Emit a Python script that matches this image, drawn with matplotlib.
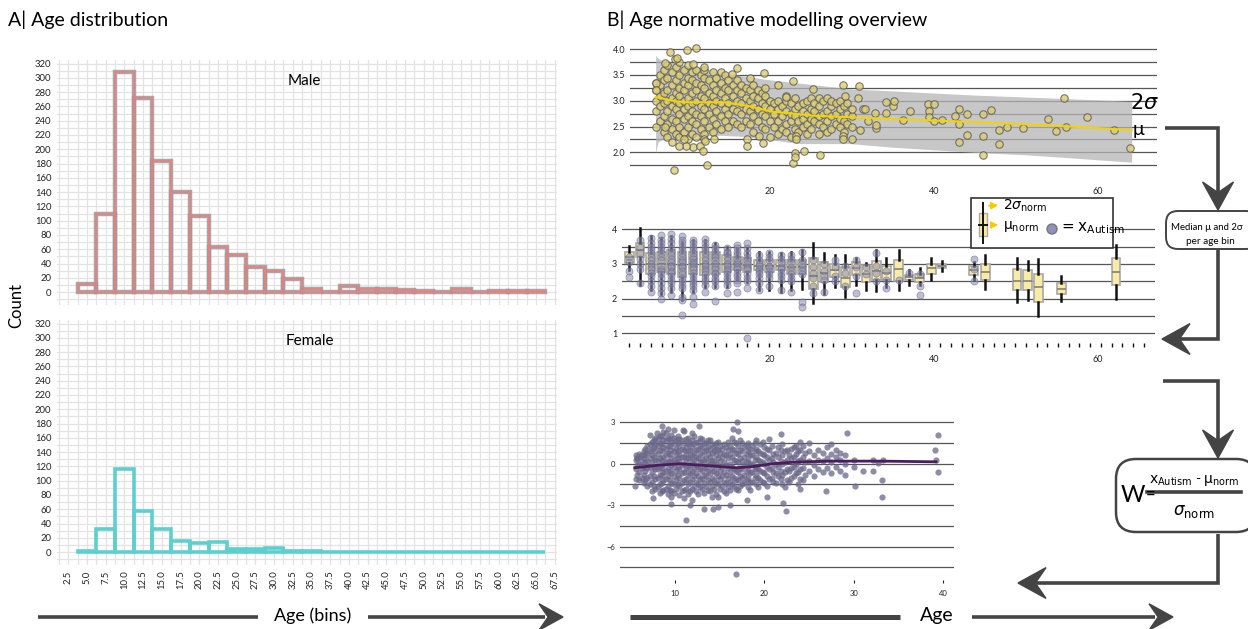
import matplotlib
matplotlib.use('Agg')
import matplotlib.pyplot as plt
import numpy as np
from matplotlib.patches import FancyBboxPatch, Polygon, Rectangle, Circle

plt.rcParams['font.family'] = ['Lato', 'DejaVu Sans']
plt.rcParams['mathtext.fontset'] = 'dejavusans'

# ---------------- data: panel A (histograms) ----------------
bin_start = 3.75
bin_width = 2.5
male_counts = [11, 110, 308, 272, 184, 140, 107, 63, 52, 35, 30, 19, 5, 0, 9, 4, 5, 3, 2, 0, 4, 0, 1, 1, 1]
female_counts = [2, 33, 117, 58, 33, 16, 13, 14, 4, 5, 6, 2, 1, 0, 0, 0, 0, 0, 0, 0, 0, 0, 0, 0, 0]
age_bin_labels = ['2.5', '5.0', '7.5', '10.0', '12.5', '15.0', '17.5', '20.0', '22.5', '25.0', '27.5',
                  '30.0', '32.5', '35.0', '37.5', '40.0', '42.5', '45.0', '47.5', '50.0', '52.5', '55.0',
                  '57.5', '60.0', '62.5', '65.0', '67.5']
count_ticks = list(range(0, 321, 20))

# ---------------- data: panel B top (normative model) ----------------
band_age = [6.0, 6.3, 6.8, 8.0, 10.0, 12.0, 14.0, 16.7, 19.7, 23.7, 29.8, 35.0, 40.0, 45.0, 51.6, 58.0, 64.2]
band_upper = [3.88, 3.82, 3.78, 3.74, 3.68, 3.62, 3.55, 3.48, 3.41, 3.34, 3.23, 3.19, 3.15, 3.11, 3.07, 3.03, 2.99]
band_lower = [1.99, 2.20, 2.25, 2.28, 2.30, 2.32, 2.33, 2.31, 2.25, 2.17, 2.17, 2.10, 2.05, 2.00, 1.95, 1.88, 1.81]
mu_age = [6.0, 8.4, 10.0, 12.0, 14.5, 17.6, 20.2, 25.4, 34.2, 42.9, 51.6, 58.0, 64.2]
mu_val = [3.07, 2.99, 2.97, 2.97, 2.97, 2.89, 2.79, 2.71, 2.65, 2.60, 2.54, 2.49, 2.43]

norm_col_age = [6.1, 6.5, 7.0, 7.4, 8.0, 8.5, 8.9, 9.5, 10.0, 10.4, 11.0, 11.5, 11.9, 12.5, 13.0, 13.4,
                14.0, 14.5, 14.9, 15.5, 16.0, 16.4, 17.0, 17.5, 17.9, 18.5, 19.0, 19.4, 20.0, 20.5, 21.0,
                21.4, 22.0, 22.5, 23.0, 23.4, 24.0, 24.5, 25.0, 25.4, 26.0, 26.5, 27.0, 27.4, 28.0, 28.5,
                29.0, 29.4, 30.0]
norm_col_val = [
    [2.5, 2.8, 3.0, 3.2, 3.35],
    [2.6, 2.9, 3.1, 3.3, 3.5],
    [2.4, 2.7, 2.95, 3.15, 3.4, 3.6],
    [2.3, 2.55, 2.8, 3.0, 3.2, 3.45, 3.7],
    [2.2, 2.45, 2.65, 2.9, 3.05, 3.3, 3.55],
    [2.35, 2.6, 2.85, 3.0, 3.15, 3.4, 3.65],
    [2.3, 2.5, 2.75, 2.95, 3.1, 3.25, 3.5, 3.75],
    [2.4, 2.65, 2.85, 3.0, 3.2, 3.35, 3.6],
    [2.25, 2.5, 2.7, 2.9, 3.05, 3.3, 3.45, 3.7],
    [2.35, 2.6, 2.8, 2.95, 3.15, 3.4, 3.55],
    [2.3, 2.55, 2.75, 3.0, 3.2, 3.35, 3.6],
    [2.45, 2.7, 2.9, 3.1, 3.3, 3.5],
    [2.35, 2.6, 2.85, 3.05, 3.25, 3.45, 3.6],
    [2.5, 2.75, 2.95, 3.15, 3.4],
    [2.4, 2.65, 2.9, 3.1, 3.3, 3.55],
    [2.55, 2.8, 3.0, 3.2, 3.45],
    [2.45, 2.7, 2.95, 3.15, 3.35, 3.55],
    [2.6, 2.85, 3.05, 3.25, 3.5],
    [2.5, 2.75, 2.95, 3.2, 3.4],
    [2.6, 2.85, 3.1, 3.3],
    [2.55, 2.8, 3.0, 3.2, 3.4],
    [2.5, 2.75, 2.95, 3.15, 3.3],
    [2.6, 2.85, 3.05, 3.25],
    [2.55, 2.8, 3.0, 3.2],
    [2.4, 2.7, 2.9, 3.1, 3.3],
    [2.6, 2.85, 3.05, 3.2],
    [2.5, 2.75, 2.95, 3.15],
    [2.45, 2.7, 2.9, 3.1, 3.25],
    [2.3, 2.6, 2.85, 3.0],
    [2.5, 2.75, 2.95],
    [2.35, 2.6, 2.85, 3.0, 3.3],
    [2.45, 2.7, 2.9],
    [2.4, 2.55, 2.8, 3.0, 3.1],
    [2.3, 2.6, 2.75, 2.95],
    [2.45, 2.7, 2.85, 3.05],
    [2.4, 2.6, 2.9],
    [2.5, 2.65, 2.8, 2.95],
    [2.35, 2.55, 2.75, 3.0],
    [2.45, 2.65, 2.85, 3.05],
    [2.6, 2.8, 2.95],
    [2.35, 2.55, 2.7, 2.9, 3.05],
    [2.5, 2.75, 3.0],
    [2.4, 2.6, 2.8, 3.05],
    [2.45, 2.7, 2.9, 3.0],
    [2.55, 2.75, 2.95],
    [2.5, 2.65, 2.85, 3.0],
    [2.4, 2.6, 2.9],
    [2.55, 2.75, 2.95],
    [2.5, 2.7, 2.85],
]
norm_extra_age = [6.0, 6.0, 7.15, 7.8, 8.2, 8.4, 8.6, 9.8, 11.0, 10.6, 11.9, 12.3, 13.1, 10.6, 9.7, 8.9,
                  9.5, 11.9, 11.4, 11.8, 12.1, 7.2, 16.0, 15.4, 17.5, 17.2, 17.2, 18.6, 19.1, 19.2, 21.9,
                  22.8, 22.8, 23.0, 23.0, 23.2, 23.2, 24.1, 26.1, 25.3, 28.9, 30.9, 28.9, 28.9, 30.0,
                  29.1, 30.7, 31.0, 31.3, 31.6, 32.0, 32.8, 33.0, 33.0, 34.2, 34.2, 35.0, 35.1, 36.2,
                  37.1, 39.3, 39.4, 39.4, 40.0, 40.0, 41.0, 42.6, 43.1, 43.1, 43.1, 44.1, 44.1, 46.0,
                  46.0, 46.0, 47.0, 48.0, 48.0, 49.0, 50.9, 54.0, 55.0, 55.9, 56.2, 58.8, 62.0, 64.0]
norm_extra_val = [3.34, 3.2, 3.74, 3.94, 1.66, 3.81, 3.83, 3.99, 4.03, 3.71, 3.66, 1.76, 2.25, 2.10, 2.12,
                  2.12, 2.25, 2.25, 2.13, 2.03, 2.23, 2.49, 3.63, 3.52, 3.44, 2.25, 2.12, 2.32, 2.19, 3.54,
                  3.08, 3.39, 1.79, 1.99, 1.92, 2.31, 2.26, 2.03, 1.94, 3.23, 3.31, 3.29, 2.31, 2.25, 2.25,
                  3.10, 3.05, 2.43, 2.84, 2.84, 2.60, 2.77, 2.47, 2.54, 2.76, 2.97, 2.89, 2.99, 2.62, 2.81,
                  2.94, 2.81, 2.68, 2.94, 2.60, 2.63, 2.70, 2.84, 2.55, 2.21, 2.74, 2.33, 2.75, 2.32, 1.94,
                  2.83, 2.43, 2.17, 2.49, 2.47, 2.65, 2.42, 3.05, 2.50, 2.69, 2.44, 2.08]

# ---------------- data: panel B middle (per-bin boxes + autism values) ----------------
box_age = [2.8, 4.1, 5.4, 6.7, 7.9, 9.25, 10.6, 12.0, 13.3, 14.7, 16.0, 17.2, 18.6, 19.9, 21.3, 22.6,
           23.9, 25.3, 26.6, 27.9, 29.2, 30.5, 31.7, 33.0, 34.2, 35.7, 37.0, 38.3, 39.7, 41.0, 44.9,
           46.3, 50.2, 51.5, 52.8, 55.6, 62.3]
box_q1 = [3.03, 3.21, 2.72, 2.77, 2.72, 2.63, 2.72, 2.68, 2.72, 2.77, 2.82, 2.77, 2.82, 2.77, 2.82, 2.72,
          2.72, 2.29, 2.48, 2.63, 2.34, 2.68, 2.48, 2.53, 2.55, 2.51, 2.55, 2.48, 2.72, 2.87, 2.68,
          2.53, 2.24, 2.24, 1.90, 2.14, 2.39]
box_med = [3.20, 3.40, 3.00, 3.00, 3.00, 2.97, 3.00, 3.00, 3.00, 3.00, 3.00, 2.97, 2.95, 2.93, 2.95, 2.92,
           2.90, 2.65, 2.75, 2.82, 2.60, 2.87, 2.72, 2.80, 2.75, 2.84, 2.62, 2.60, 2.87, 2.94, 2.82,
           2.78, 2.52, 2.52, 2.32, 2.28, 2.78]
box_q3 = [3.35, 3.61, 3.32, 3.35, 3.40, 3.35, 3.35, 3.35, 3.35, 3.26, 3.21, 3.16, 3.11, 3.11, 3.11, 3.11,
          3.11, 3.16, 3.06, 3.01, 2.92, 3.06, 2.97, 3.08, 2.94, 3.11, 2.68, 2.72, 3.00, 3.01, 2.94,
          3.00, 2.84, 2.82, 2.72, 2.45, 3.16]
box_lo = [2.82, 2.39, 2.24, 2.14, 2.19, 1.95, 2.19, 2.34, 2.34, 2.34, 2.53, 2.48, 2.24, 2.24, 2.19, 2.24,
          2.29, 1.88, 2.14, 2.34, 2.05, 2.39, 2.24, 2.21, 2.34, 2.24, 2.39, 2.39, 2.53, 2.79, 2.53,
          2.29, 1.90, 1.95, 1.49, 1.92, 2.00]
box_hi = [3.52, 4.03, 3.79, 3.74, 3.79, 3.64, 3.69, 3.69, 3.59, 3.50, 3.45, 3.45, 3.35, 3.35, 3.30, 3.35,
          3.40, 3.61, 3.32, 3.26, 3.26, 3.18, 3.03, 3.40, 3.16, 3.40, 2.82, 2.87, 3.16, 3.08, 3.06,
          3.26, 3.16, 3.08, 3.13, 2.65, 3.55]
autism_col_val = [
    [3.2, 3.05, 2.8, 2.62],
    [3.7, 3.5, 3.3, 3.15, 3.0, 2.85, 2.45],
    [3.75, 3.6, 3.5, 3.4, 3.3, 3.2, 3.1, 3.0, 2.9, 2.85, 2.75, 2.65, 2.5, 2.35, 2.2],
    [3.82, 3.7, 3.6, 3.5, 3.4, 3.3, 3.2, 3.1, 2.95, 2.85, 2.8, 2.7, 2.6, 2.45, 2.3, 2.15, 2.0],
    [3.85, 3.72, 3.6, 3.45, 3.35, 3.25, 3.15, 3.05, 2.95, 2.9, 2.8, 2.75, 2.65, 2.55, 2.45, 2.3, 2.1],
    [3.8, 3.7, 3.6, 3.5, 3.4, 3.3, 3.2, 3.1, 3.05, 2.95, 2.9, 2.8, 2.7, 2.6, 2.5, 2.4, 2.3, 2.05, 1.95, 1.53],
    [3.7, 3.6, 3.5, 3.4, 3.3, 3.2, 3.15, 3.05, 3.0, 2.9, 2.85, 2.75, 2.65, 2.55, 2.45, 2.35, 2.25, 2.05, 1.85],
    [3.72, 3.6, 3.5, 3.4, 3.3, 3.2, 3.1, 3.0, 2.95, 2.85, 2.8, 2.7, 2.6, 2.5, 2.4, 2.2],
    [3.55, 3.45, 3.35, 3.25, 3.2, 3.1, 3.0, 2.9, 2.85, 2.75, 2.7, 2.6, 2.5, 2.35, 1.92],
    [3.45, 3.35, 3.3, 3.2, 3.1, 3.0, 2.95, 2.85, 2.8, 2.7, 2.6, 2.5, 2.4, 2.15],
    [3.55, 3.45, 3.35, 3.25, 3.15, 3.05, 3.0, 2.9, 2.85, 2.75, 2.65, 2.55, 2.45, 2.2],
    [3.6, 3.45, 3.3, 3.2, 3.1, 3.0, 2.9, 2.85, 2.7, 2.6, 2.5, 2.3, 0.85],
    [3.25, 3.1, 3.0, 2.95, 2.85, 2.8, 2.7, 2.6, 2.45, 2.25],
    [3.3, 3.2, 3.1, 2.95, 2.9, 2.8, 2.7, 2.6, 2.35],
    [3.25, 3.15, 3.05, 2.9, 2.85, 2.75, 2.65, 2.55, 2.25],
    [3.25, 3.15, 3.05, 2.9, 2.8, 2.7, 2.6, 2.5, 2.2],
    [3.35, 3.1, 3.0, 2.9, 2.8, 2.7, 1.9, 1.75],
    [3.1, 2.9, 2.75, 2.6, 2.35, 2.15],
    [3.0, 2.8, 2.65, 2.55, 2.2],
    [3.1, 2.9, 2.65, 2.5],
    [2.95, 2.75, 2.35],
    [3.1, 2.9, 2.65, 2.15],
    [2.9, 2.7],
    [3.3, 2.95, 2.75, 2.5],
    [2.8, 2.55, 2.3],
    [2.55],
    [2.75],
    [2.7, 2.35, 2.1],
    [], [],
    [3.15, 2.85, 2.5],
    [], [], [], [], [], [],
]

# ---------------- data: panel B bottom (W-scores) ----------------
w_line_age = [5.5, 8.3, 10.5, 14.3, 16.8, 18.7, 20.9, 23.5, 27.3, 32.9, 39.2]
w_line_val = [-0.29, -0.10, 0.0, -0.17, -0.29, -0.21, 0.0, 0.12, 0.19, 0.19, 0.14]
w_col_age = [5.6, 6.0, 6.5, 6.9, 7.4, 7.8, 8.3, 8.7, 9.2, 9.6, 10.1, 10.5, 11.0, 11.4, 11.9, 12.3, 12.8,
             13.2, 13.7, 14.1, 14.6, 15.0, 15.5, 15.9, 16.4, 16.8, 17.3, 17.7, 18.2, 18.6, 19.1, 19.5,
             20.0, 20.5, 21.0, 21.5, 22.0, 22.5, 23.0, 23.5, 24.0, 24.5, 25.0, 25.5, 26.0, 26.5, 27.0,
             27.5, 28.0, 28.5, 29.0, 30.0]
w_col_val = [
    [-1.1, -0.4, 0.3, 0.6],
    [-1.2, -0.6, 0.0, 0.5, 0.7],
    [-1.4, -0.8, -0.2, 0.4, 0.9],
    [-1.6, -1.0, -0.3, 0.2, 0.8, 1.3],
    [-2.0, -1.3, -0.6, 0.1, 0.6, 1.1, 1.6],
    [-1.8, -1.1, -0.4, 0.3, 0.9, 1.4, 1.9],
    [-2.1, -1.5, -0.8, -0.2, 0.4, 1.0, 1.5, 2.0],
    [-1.9, -1.2, -0.6, 0.0, 0.5, 1.2, 1.7, 2.3],
    [-2.2, -1.6, -0.9, -0.3, 0.2, 0.8, 1.3, 1.9, 2.5],
    [-2.0, -1.4, -0.7, -0.1, 0.4, 1.0, 1.6, 2.1],
    [-1.8, -1.2, -0.5, 0.1, 0.6, 1.1, 1.7],
    [-2.3, -1.6, -1.0, -0.4, 0.2, 0.7, 1.3, 1.8],
    [-2.5, -1.9, -1.2, -0.6, 0.0, 0.5, 1.0, 1.5, 2.4],
    [-2.2, -1.5, -0.8, -0.2, 0.4, 0.9, 1.4, 1.9],
    [-2.6, -1.8, -1.1, -0.5, 0.1, 0.6, 1.2, 1.7, 2.2],
    [-2.0, -1.3, -0.7, -0.1, 0.5, 1.0, 1.6],
    [-1.7, -1.1, -0.4, 0.2, 0.8, 1.3, 1.9],
    [-2.1, -1.4, -0.8, -0.2, 0.3, 0.9, 1.5],
    [-1.9, -1.2, -0.5, 0.1, 0.7, 1.2, 1.7],
    [-2.4, -1.6, -1.0, -0.3, 0.3, 0.8, 1.4],
    [-2.2, -1.4, -0.7, 0.0, 0.6, 1.1, 1.5],
    [-1.8, -1.1, -0.5, 0.2, 0.8, 1.3],
    [-2.0, -1.3, -0.6, 0.1, 0.7, 1.4],
    [-1.7, -1.0, -0.3, 0.4, 1.0, 1.6],
    [-1.5, -0.9, -0.2, 0.5, 1.1, 1.9],
    [-1.8, -1.2, -0.5, 0.2, 0.8, 1.5],
    [-1.6, -0.9, -0.3, 0.4, 1.0, 1.7],
    [-1.4, -0.8, -0.1, 0.5, 1.2],
    [-1.7, -1.0, -0.4, 0.3, 0.9, 1.5],
    [-1.3, -0.6, 0.0, 0.6, 1.3],
    [-1.5, -0.8, -0.2, 0.5, 1.1, 1.7],
    [-1.2, -0.5, 0.2, 0.8, 1.4],
    [-1.4, -0.7, 0.0, 0.6, 1.2],
    [-1.1, -0.4, 0.3, 1.0, 1.8],
    [-1.3, -0.6, 0.1, 0.7],
    [-0.9, -0.2, 0.5, 1.2],
    [-1.5, -0.8, 0.0, 0.6, 1.4],
    [-1.2, -0.4, 0.3, 1.0],
    [-1.0, -0.3, 0.4, 1.1],
    [-0.7, 0.0, 0.7, 1.3],
    [-1.8, -1.1, -0.4, 0.3, 1.0, 1.6],
    [-0.8, 0.1, 0.8],
    [-0.5, 0.2, 0.9, 1.5],
    [-0.9, -0.1, 0.6],
    [-0.4, 0.3, 1.0],
    [-0.6, 0.2, 0.8],
    [-0.3, 0.4, 1.2],
    [-0.7, 0.1, 0.7, 1.4],
    [-0.2, 0.5, 1.0],
    [-0.5, 0.3, 0.8],
    [-0.8, 0.0, 0.6],
    [-0.2, 0.3],
]
w_col2_age = [5.8, 6.3, 6.7, 7.2, 7.6, 8.1, 8.5, 9.0, 9.4, 9.9, 10.3, 10.8, 11.2, 11.7, 12.1, 12.6, 13.0,
              13.5, 13.9, 14.4, 14.8, 15.3, 15.7, 16.2, 16.6, 17.1, 17.5, 18.0, 18.4, 18.9, 19.3, 19.8,
              20.3, 20.8, 21.3, 21.8, 22.3, 22.8, 23.3, 23.8, 24.3]
w_col2_val = [
    [-0.8, -0.1, 0.4],
    [-1.0, -0.3, 0.2, 0.6],
    [-1.2, -0.5, 0.1, 0.6, 1.1],
    [-1.5, -0.9, -0.2, 0.4, 0.9, 1.4],
    [-1.6, -0.9, -0.2, 0.5, 1.2, 1.7],
    [-1.7, -1.0, -0.4, 0.2, 0.7, 1.3, 1.8],
    [-2.0, -1.4, -0.8, -0.3, 0.3, 0.9, 1.4, 2.0],
    [-1.8, -1.1, -0.5, 0.1, 0.6, 1.1, 1.7, 2.2],
    [-1.9, -1.2, -0.5, 0.1, 0.7, 1.3, 1.8],
    [-2.1, -1.5, -0.9, -0.2, 0.3, 0.9, 1.4, 1.9],
    [-1.5, -0.8, -0.2, 0.4, 0.9, 1.5, 2.0],
    [-2.0, -1.4, -0.7, -0.1, 0.5, 1.1, 1.7],
    [-1.8, -1.1, -0.4, 0.2, 0.7, 1.2, 1.8],
    [-2.0, -1.3, -0.7, -0.1, 0.5, 1.0, 1.5],
    [-1.6, -0.9, -0.3, 0.3, 0.8, 1.4, 2.0],
    [-2.2, -1.5, -0.9, -0.2, 0.4, 1.1, 1.6],
    [-1.8, -1.1, -0.5, 0.1, 0.6, 1.2, 1.8],
    [-1.6, -0.9, -0.3, 0.4, 1.0, 1.5],
    [-2.0, -1.3, -0.7, 0.0, 0.5, 1.1, 1.7],
    [-1.8, -1.2, -0.5, 0.2, 0.9, 1.3],
    [-2.4, -1.5, -0.9, -0.2, 0.4, 1.0, 1.6],
    [-1.6, -0.9, -0.2, 0.5, 1.1],
    [-2.1, -1.4, -0.8, -0.1, 0.6, 1.2],
    [-1.9, -1.3, -0.6, 0.0, 0.7, 1.3],
    [-1.6, -1.0, -0.4, 0.3, 1.0, 1.6],
    [-1.9, -1.2, -0.6, 0.1, 0.7, 1.3, 2.4],
    [-1.5, -1.0, -0.4, 0.2, 0.9, 1.5],
    [-1.2, -0.6, 0.1, 0.7, 1.3],
    [-1.9, -1.3, -0.7, 0.0, 0.6, 1.1],
    [-1.0, -0.4, 0.3, 0.9, 1.5],
    [-1.7, -1.0, -0.4, 0.3, 0.9],
    [-1.3, -0.6, 0.1, 0.7, 1.6],
    [-1.6, -0.9, -0.2, 0.5, 1.1],
    [-1.0, -0.3, 0.4, 1.3],
    [-1.4, -0.7, 0.0, 0.8],
    [-1.1, -0.5, 0.2, 1.0],
    [-1.7, -0.6, 0.1, 0.9],
    [-1.3, -0.5, 0.6],
    [-0.9, -0.2, 0.5, 1.2],
    [-1.5, -0.6, 0.2, 0.9],
    [-1.2, -0.3, 0.5, 1.3],
]
w_extra_age = [5.5, 5.7, 7.2, 7.5, 8.0, 8.6, 9.5, 9.5, 9.9, 10.9, 11.2, 11.7, 12.7, 13.2, 14.3, 14.8, 16.1,
               16.5, 16.97, 16.8, 18.0, 20.3, 21.9, 22.1, 22.4, 26.9, 29.2, 30.1, 31.0, 32.1, 33.1,
               33.1, 39.1, 39.4, 39.4, 39.2, 33.3, 32.1, 32.7]
w_extra_val = [-1.64, 0.43, 2.1, -2.5, 2.2, 2.7, -2.4, -2.9, 2.45, 2.45, -4.1, -3.0, 2.7, -3.3, -3.3,
               -3.1, -3.0, 2.5, 3.05, -7.95, -2.6, -2.4, 2.17, -2.83, -3.4, -1.95, 2.2, -1.64, -0.52,
               -0.52, -2.43, -1.17, 1.02, 2.1, -0.6, 0.3, 0.3, 0.3, 0.07]

# ---------------- figure ----------------
W, H = 1248, 629
fig = plt.figure(figsize=(W / 100, H / 100), dpi=100)


def add_ax(x0, y0, x1, y1):
    return fig.add_axes([x0 / W, 1 - y1 / H, (x1 - x0) / W, (y1 - y0) / H])


def flatten(ages, cols):
    xs, ys = [], []
    for a, col in zip(ages, cols):
        xs.extend([a] * len(col))
        ys.extend(col)
    return xs, ys


edges = bin_start + bin_width * np.arange(len(male_counts))
grid_c = '#e3e3e3'


def hist_axes(ax, show_x):
    ax.set_xlim(1.0, 67.8)
    ax.set_ylim(-18, 325)
    ax.set_xticks(np.arange(2.5, 67.6, 2.5))
    ax.set_xticks(np.arange(1.25, 67.6, 1.25), minor=True)
    ax.set_yticks(count_ticks)
    ax.set_yticks(np.arange(-10, 325, 10), minor=True)
    ax.grid(True, which='both', color=grid_c, lw=0.9)
    ax.set_axisbelow(True)
    for s in ax.spines.values():
        s.set_visible(False)
    ax.tick_params(which='both', length=0, labelsize=6.8, colors='#222', pad=4)
    if show_x:
        ax.set_xticklabels(age_bin_labels, rotation=90)
    else:
        ax.set_xticklabels([])


axm = add_ax(57, 60, 557, 305)
hist_axes(axm, False)
axm.bar(edges, male_counts, width=bin_width, align='edge', fill=False,
        edgecolor='#9a9a9a', lw=3.2, alpha=0.85)
axm.bar(edges, male_counts, width=bin_width, align='edge', fill=False,
        edgecolor='#f27c7c', lw=1.1)
axm.text(0.495, 0.915, 'Male', transform=axm.transAxes, ha='center', va='center', fontsize=11)

axf = add_ax(57, 320, 557, 565)
hist_axes(axf, True)
axf.bar(edges, female_counts, width=bin_width, align='edge', fill=False,
        edgecolor='#5ecfcf', lw=2.6)
axf.text(0.505, 0.915, 'Female', transform=axf.transAxes, ha='center', va='center', fontsize=11)

line_c = '#555555'


def line_axes(ax):
    for s in ax.spines.values():
        s.set_visible(False)
    ax.grid(True, which='both', axis='y', color=line_c, lw=0.9)
    ax.set_axisbelow(True)
    ax.tick_params(which='both', length=0, labelsize=6.5, colors='#222')


# top: normative model
axt = add_ax(630, 45, 1157, 172)
axt.set_xlim(2.87, 67.3)
axt.set_ylim(1.62, 4.08)
axt.set_yticks([2.0, 2.5, 3.0, 3.5, 4.0])
axt.set_yticklabels(['2.0', '2.5', '3.0', '3.5', '4.0'])
axt.set_yticks([1.75, 2.25, 2.75, 3.25, 3.75], minor=True)
axt.set_xticks([20, 40, 60])
line_axes(axt)
axt.tick_params(axis='x', pad=11)
axt.fill_between(band_age, band_lower, band_upper, color='#b5b5b5', alpha=0.75, lw=0, zorder=2)
nx, ny = flatten(norm_col_age, norm_col_val)
axt.scatter(nx + norm_extra_age, ny + norm_extra_val, s=29, facecolor='#ddcd72',
            edgecolor='#5a5a5a', lw=0.8, alpha=0.8, zorder=3, clip_on=False)
axt.plot(mu_age, mu_val, color='#f4d400', lw=1.5, zorder=4)

# middle: per-bin boxes
axb = add_ax(622, 224, 1155, 343)
axb.set_xlim(1.9, 67.05)
axb.set_ylim(0.72, 4.15)
axb.set_yticks([1, 2, 3, 4])
axb.set_yticks([1.5, 2.5, 3.5], minor=True)
axb.set_xticks([20, 40, 60])
axb.set_xticks(np.arange(2.8, 66.5, 1.31), minor=True)
line_axes(axb)
axb.tick_params(axis='x', which='minor', length=3, width=1, color='#111', direction='out')
axb.tick_params(axis='x', which='major', pad=9)
stats = [dict(med=m, q1=a, q3=b, whislo=lo, whishi=hi, fliers=[])
         for m, a, b, lo, hi in zip(box_med, box_q1, box_q3, box_lo, box_hi)]
axb.bxp(stats, positions=box_age, widths=1.05, patch_artist=True, showfliers=False,
        showcaps=False, manage_ticks=False,
        boxprops=dict(facecolor='#f9eba5', edgecolor='#a8a8a8', lw=1.2),
        whiskerprops=dict(color='#111111', lw=1.8),
        medianprops=dict(color='#777777', lw=1.1))
mx, my = flatten(box_age, autism_col_val)
axb.scatter(mx, my, s=26, facecolor='#8a8ab2', edgecolor='#666680', lw=0.6, alpha=0.55,
            zorder=5, clip_on=False)

# bottom: W-scores
axw = add_ax(620, 415, 954, 580)
axw.set_xlim(3.85, 41.2)
axw.set_ylim(-8.42, 3.53)
axw.set_yticks([-6, -3, 0, 3])
axw.set_yticks([-7.5, -4.5, -1.5, 1.5], minor=True)
axw.set_xticks([10, 20, 30, 40])
line_axes(axw)
axw.tick_params(axis='x', length=2, width=0.8, color='#222', pad=5)
axw.tick_params(labelsize=5.5)
wx, wy = flatten(w_col_age, w_col_val)
wx2, wy2 = flatten(w_col2_age, w_col2_val)
axw.scatter(wx + wx2 + w_extra_age, wy + wy2 + w_extra_val, s=20, color='#6a6688', alpha=0.75,
            lw=0, zorder=3, clip_on=False)
axw.plot(w_line_age, w_line_val, color='#4b1d5e', lw=2, zorder=4)

# ---------------- overlay: titles, flow arrows, boxes ----------------
ov = fig.add_axes([0, 0, 1, 1])
ov.set_xlim(0, W)
ov.set_ylim(H, 0)
ov.axis('off')
ov.set_zorder(10)

ov.text(8, 20, 'A| Age distribution', fontsize=14, ha='left', va='center')
ov.text(607, 20, 'B| Age normative modelling overview', fontsize=14, ha='left', va='center')
ov.text(16, 305, 'Count', fontsize=12, rotation=90, ha='center', va='center')
ov.text(313, 616, 'Age (bins)', fontsize=13, ha='center', va='center')
ov.text(937, 616, 'Age', fontsize=14, ha='center', va='center')
ov.text(1145, 103, r'$2\sigma$', fontsize=15, ha='center', va='center')
ov.text(1138, 130, 'μ', fontsize=14, ha='center', va='center')

arrow_c = '#444444'


def stealth(tip, direction, size=26):
    d = np.array(direction, float)
    d /= np.linalg.norm(d)
    p = np.array([-d[1], d[0]])
    tip = np.array(tip, float)
    back = tip - d * size
    pts = [tip, back + p * size * 0.55, tip - d * size * 0.62, back - p * size * 0.55]
    ov.add_patch(Polygon(pts, closed=True, facecolor=arrow_c, edgecolor=arrow_c, lw=1))


def path(xs, ys, lw=2.6):
    ov.plot(xs, ys, color=arrow_c, lw=lw, solid_capstyle='butt', solid_joinstyle='miter')


# panel A axis arrow
path([38, 258], [617, 617], lw=2.6)
path([368, 545], [617, 617], lw=2.6)
stealth((563, 617), (1, 0), 24)
# panel B age arrow
path([630, 900], [617, 617], lw=3.6)
path([972, 1155], [617, 617], lw=2.6)
stealth((1173, 617), (1, 0), 24)

# flow
path([1165, 1218, 1218], [128, 128, 195])
stealth((1218, 210), (0, 1), 28)
path([1218, 1218, 1180], [250, 339, 339])
stealth((1162, 339), (-1, 0), 28)
path([1163, 1218, 1218], [381, 381, 443])
stealth((1218, 458), (0, 1), 28)
path([1218, 1218, 1035], [534, 583, 583])
stealth((1018, 583), (-1, 0), 28)

ov.add_patch(FancyBboxPatch((1166, 211), 92, 38, boxstyle='round,pad=0,rounding_size=12',
                            facecolor='white', edgecolor=arrow_c, lw=1.4))
ov.text(1207, 228, 'Median μ and 2σ', fontsize=6.9, ha='center', va='center')
ov.text(1210, 242, 'per age bin', fontsize=7.2, ha='center', va='center')

ov.add_patch(FancyBboxPatch((1116, 459), 140, 73, boxstyle='round,pad=0,rounding_size=20',
                            facecolor='white', edgecolor=arrow_c, lw=1.8))
ov.text(1133, 496, 'W', fontsize=17, ha='center', va='center')
ov.text(1151, 494, '=', fontsize=12, ha='center', va='center')
ov.plot([1147, 1241], [492, 492], color=arrow_c, lw=2.6)
ov.text(1194, 480, r'$\mathrm{x}_{\mathrm{Autism}}$ - $\mathrm{\mu}_{\mathrm{norm}}$',
        fontsize=10, ha='center', va='center')
ov.text(1194, 511, r'$\sigma_{\mathrm{norm}}$', fontsize=12, ha='center', va='center')

# legend box in middle panel
ov.add_patch(Rectangle((971, 198), 142, 50, facecolor='white', edgecolor='#333333', lw=1.2))
ov.plot([983, 983], [203, 243], color='#111111', lw=1.4)
ov.add_patch(Rectangle((979, 213), 8, 23, facecolor='#f9eba5', edgecolor='#a8a8a8', lw=1))
ov.plot([979, 987], [225, 225], color='#111111', lw=1.4)
ov.annotate('', xy=(1001, 205), xytext=(986, 206),
            arrowprops=dict(arrowstyle='-|>,head_length=0.4,head_width=0.2', color='#f2cc00', lw=1.2))
ov.annotate('', xy=(1001, 225), xytext=(988, 225),
            arrowprops=dict(arrowstyle='-|>,head_length=0.4,head_width=0.2', color='#f2cc00', lw=1.2))
ov.text(1003, 206, r'$2\sigma_{\mathrm{norm}}$', fontsize=10, ha='left', va='center')
ov.text(1003, 227, r'$\mathrm{\mu}_{\mathrm{norm}}$', fontsize=10, ha='left', va='center')
ov.add_patch(Circle((1052, 229), 5, facecolor='#9090b8', edgecolor='#777777', lw=1))
ov.text(1059, 228, r'$=\mathrm{x}_{\mathrm{Autism}}$', fontsize=11, ha='left', va='center')

fig.savefig('out.png', dpi=100)
